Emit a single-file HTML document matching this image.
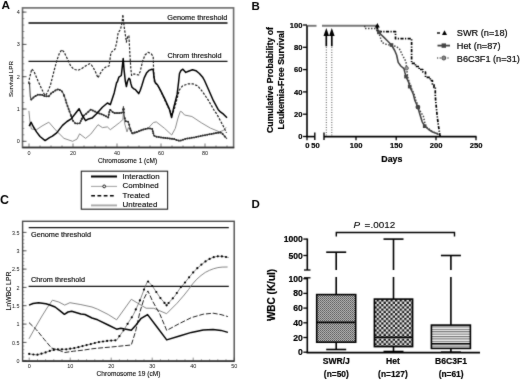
<!DOCTYPE html>
<html><head><meta charset="utf-8"><style>
html,body{margin:0;padding:0;background:#fff;width:520px;height:380px;overflow:hidden}
svg{display:block;font-family:"Liberation Sans", sans-serif}
</style></head><body>
<svg width="520" height="380" viewBox="0 0 520 380">
<defs><filter id="bl" x="0" y="0" width="520" height="380" filterUnits="userSpaceOnUse" color-interpolation-filters="sRGB"><feConvolveMatrix order="3" kernelMatrix="0.02 0.08 0.02 0.08 0.6 0.08 0.02 0.08 0.02" edgeMode="duplicate"/></filter><filter id="tf" x="0" y="0" width="520" height="380" filterUnits="userSpaceOnUse" color-interpolation-filters="sRGB"><feConvolveMatrix order="3" kernelMatrix="0.01 0.04 0.01 0.04 0.8 0.04 0.01 0.04 0.01" edgeMode="none"/></filter></defs>
<g filter="url(#bl)">
<rect width="520" height="380" fill="#fff"/>
<rect x="22.5" y="7.9" width="211.1" height="139.6" fill="none" stroke="#6a6a6a" stroke-width="1.6"/><line x1="22.4" y1="147.6" x2="234.2" y2="147.6" stroke="#333" stroke-width="1.5"/><line x1="22.4" y1="141.3" x2="26.5" y2="141.3" stroke="#333" stroke-width="0.8"/><line x1="22.4" y1="109.0" x2="26.5" y2="109.0" stroke="#333" stroke-width="0.8"/><line x1="22.4" y1="76.7" x2="26.5" y2="76.7" stroke="#333" stroke-width="0.8"/><line x1="22.4" y1="44.4" x2="26.5" y2="44.4" stroke="#333" stroke-width="0.8"/><line x1="22.4" y1="12.1" x2="26.5" y2="12.1" stroke="#333" stroke-width="0.8"/><line x1="22.4" y1="141.3" x2="24.4" y2="141.3" stroke="#555" stroke-width="0.6"/><line x1="22.4" y1="134.8" x2="24.4" y2="134.8" stroke="#555" stroke-width="0.6"/><line x1="22.4" y1="128.4" x2="24.4" y2="128.4" stroke="#555" stroke-width="0.6"/><line x1="22.4" y1="121.9" x2="24.4" y2="121.9" stroke="#555" stroke-width="0.6"/><line x1="22.4" y1="115.5" x2="24.4" y2="115.5" stroke="#555" stroke-width="0.6"/><line x1="22.4" y1="109.0" x2="24.4" y2="109.0" stroke="#555" stroke-width="0.6"/><line x1="22.4" y1="102.5" x2="24.4" y2="102.5" stroke="#555" stroke-width="0.6"/><line x1="22.4" y1="96.1" x2="24.4" y2="96.1" stroke="#555" stroke-width="0.6"/><line x1="22.4" y1="89.6" x2="24.4" y2="89.6" stroke="#555" stroke-width="0.6"/><line x1="22.4" y1="83.2" x2="24.4" y2="83.2" stroke="#555" stroke-width="0.6"/><line x1="22.4" y1="76.7" x2="24.4" y2="76.7" stroke="#555" stroke-width="0.6"/><line x1="22.4" y1="70.2" x2="24.4" y2="70.2" stroke="#555" stroke-width="0.6"/><line x1="22.4" y1="63.8" x2="24.4" y2="63.8" stroke="#555" stroke-width="0.6"/><line x1="22.4" y1="57.3" x2="24.4" y2="57.3" stroke="#555" stroke-width="0.6"/><line x1="22.4" y1="50.9" x2="24.4" y2="50.9" stroke="#555" stroke-width="0.6"/><line x1="22.4" y1="44.4" x2="24.4" y2="44.4" stroke="#555" stroke-width="0.6"/><line x1="22.4" y1="37.9" x2="24.4" y2="37.9" stroke="#555" stroke-width="0.6"/><line x1="22.4" y1="31.5" x2="24.4" y2="31.5" stroke="#555" stroke-width="0.6"/><line x1="22.4" y1="25.0" x2="24.4" y2="25.0" stroke="#555" stroke-width="0.6"/><line x1="22.4" y1="18.6" x2="24.4" y2="18.6" stroke="#555" stroke-width="0.6"/><line x1="22.4" y1="12.1" x2="24.4" y2="12.1" stroke="#555" stroke-width="0.6"/><line x1="29.0" y1="147.5" x2="29.0" y2="143.5" stroke="#444" stroke-width="0.7"/><line x1="40.0" y1="147.5" x2="40.0" y2="145.5" stroke="#444" stroke-width="0.7"/><line x1="51.0" y1="147.5" x2="51.0" y2="145.5" stroke="#444" stroke-width="0.7"/><line x1="62.0" y1="147.5" x2="62.0" y2="145.5" stroke="#444" stroke-width="0.7"/><line x1="73.0" y1="147.5" x2="73.0" y2="143.5" stroke="#444" stroke-width="0.7"/><line x1="84.0" y1="147.5" x2="84.0" y2="145.5" stroke="#444" stroke-width="0.7"/><line x1="95.0" y1="147.5" x2="95.0" y2="145.5" stroke="#444" stroke-width="0.7"/><line x1="106.0" y1="147.5" x2="106.0" y2="145.5" stroke="#444" stroke-width="0.7"/><line x1="117.0" y1="147.5" x2="117.0" y2="143.5" stroke="#444" stroke-width="0.7"/><line x1="128.0" y1="147.5" x2="128.0" y2="145.5" stroke="#444" stroke-width="0.7"/><line x1="139.0" y1="147.5" x2="139.0" y2="145.5" stroke="#444" stroke-width="0.7"/><line x1="150.0" y1="147.5" x2="150.0" y2="145.5" stroke="#444" stroke-width="0.7"/><line x1="161.0" y1="147.5" x2="161.0" y2="143.5" stroke="#444" stroke-width="0.7"/><line x1="172.0" y1="147.5" x2="172.0" y2="145.5" stroke="#444" stroke-width="0.7"/><line x1="183.0" y1="147.5" x2="183.0" y2="145.5" stroke="#444" stroke-width="0.7"/><line x1="194.0" y1="147.5" x2="194.0" y2="145.5" stroke="#444" stroke-width="0.7"/><line x1="205.0" y1="147.5" x2="205.0" y2="143.5" stroke="#444" stroke-width="0.7"/><line x1="216.0" y1="147.5" x2="216.0" y2="145.5" stroke="#444" stroke-width="0.7"/><line x1="227.0" y1="147.5" x2="227.0" y2="145.5" stroke="#444" stroke-width="0.7"/><line x1="28.5" y1="22.9" x2="227.5" y2="22.9" stroke="#444" stroke-width="2.0"/><line x1="28.5" y1="61.4" x2="227.5" y2="61.4" stroke="#111" stroke-width="1.4"/><polyline points="28.9,110.9 30.0,122.0 31.4,129.0 36.5,129.7 42.0,126.0 48.8,122.2 56.7,131.2 64.0,138.4 72.6,141.3 77.0,139.1 79.6,133.8 85.6,138.4 90.8,134.1 98.0,124.7 102.4,127.6 107.4,126.9 110.3,129.7 114.0,126.9 119.7,122.5 122.9,119.6 123.4,112.4 124.8,124.0 127.0,131.9 128.4,127.6 132.8,134.1 140.0,131.2 148.7,127.6 153.4,122.5 156.3,121.9 164.6,128.4 171.7,135.0 175.3,128.4 178.0,118.0 180.3,111.3 182.0,112.0 184.5,115.0 191.9,116.5 201.2,122.7 210.4,128.1 219.6,131.9 223.5,130.4 226.1,127.3" fill="none" stroke="#8c8c8c" stroke-width="1.0" stroke-linejoin="round" /><polyline points="29.5,83.5 30.3,96.5 31.3,99.8 34.5,96.5 37.8,94.7 41.7,94.7 44.9,96.3 48.9,96.3 51.0,93.5 53.6,91.6 56.0,90.0 58.3,89.2 61.5,90.8 63.0,93.0 64.7,97.1 66.5,103.0 68.6,109.0 70.5,114.0 72.6,120.3 75.5,123.5 79.9,123.2 82.7,116.7 86.4,113.5 90.8,109.5 96.6,112.4 102.4,114.5 108.2,117.4 109.9,109.5 114.0,113.1 119.7,113.1 122.9,112.4 123.4,106.6 124.1,115.3 125.5,121.1 128.4,121.8 129.9,127.6 132.0,133.4 137.1,131.9 142.9,129.5 148.7,128.3 152.3,129.0 153.8,135.5 156.3,136.7 164.6,137.9 174.1,139.1 179.4,140.9 185.8,138.8 195.0,137.3 205.8,135.0 219.6,132.4 221.5,132.7 227.0,138.8" fill="none" stroke="#444" stroke-width="1.1" stroke-linejoin="round" /><circle cx="31.2" cy="99.5" r="1.0" fill="#2a2a2a" stroke="none" stroke-width="0"/><circle cx="33.4" cy="97.6" r="1.0" fill="#2a2a2a" stroke="none" stroke-width="0"/><circle cx="35.6" cy="95.9" r="1.0" fill="#2a2a2a" stroke="none" stroke-width="0"/><circle cx="37.8" cy="94.7" r="1.0" fill="#2a2a2a" stroke="none" stroke-width="0"/><circle cx="40.0" cy="94.7" r="1.0" fill="#2a2a2a" stroke="none" stroke-width="0"/><circle cx="42.2" cy="95.0" r="1.0" fill="#2a2a2a" stroke="none" stroke-width="0"/><circle cx="44.4" cy="96.0" r="1.0" fill="#2a2a2a" stroke="none" stroke-width="0"/><circle cx="46.6" cy="96.3" r="1.0" fill="#2a2a2a" stroke="none" stroke-width="0"/><circle cx="48.8" cy="96.3" r="1.0" fill="#2a2a2a" stroke="none" stroke-width="0"/><circle cx="51.0" cy="93.5" r="1.0" fill="#2a2a2a" stroke="none" stroke-width="0"/><circle cx="53.2" cy="91.9" r="1.0" fill="#2a2a2a" stroke="none" stroke-width="0"/><circle cx="55.4" cy="90.4" r="1.0" fill="#2a2a2a" stroke="none" stroke-width="0"/><circle cx="57.6" cy="89.4" r="1.0" fill="#2a2a2a" stroke="none" stroke-width="0"/><circle cx="59.8" cy="90.0" r="1.0" fill="#2a2a2a" stroke="none" stroke-width="0"/><circle cx="62.0" cy="91.5" r="1.0" fill="#2a2a2a" stroke="none" stroke-width="0"/><circle cx="64.2" cy="95.9" r="1.0" fill="#2a2a2a" stroke="none" stroke-width="0"/><circle cx="66.4" cy="102.7" r="1.0" fill="#2a2a2a" stroke="none" stroke-width="0"/><circle cx="68.6" cy="109.0" r="1.0" fill="#2a2a2a" stroke="none" stroke-width="0"/><circle cx="70.8" cy="114.9" r="1.0" fill="#2a2a2a" stroke="none" stroke-width="0"/><circle cx="73.0" cy="120.7" r="1.0" fill="#2a2a2a" stroke="none" stroke-width="0"/><circle cx="75.2" cy="123.2" r="1.0" fill="#2a2a2a" stroke="none" stroke-width="0"/><circle cx="77.4" cy="123.4" r="1.0" fill="#2a2a2a" stroke="none" stroke-width="0"/><circle cx="79.6" cy="123.2" r="1.0" fill="#2a2a2a" stroke="none" stroke-width="0"/><circle cx="81.8" cy="118.8" r="1.0" fill="#2a2a2a" stroke="none" stroke-width="0"/><circle cx="84.0" cy="115.6" r="1.0" fill="#2a2a2a" stroke="none" stroke-width="0"/><circle cx="86.2" cy="113.7" r="1.0" fill="#2a2a2a" stroke="none" stroke-width="0"/><circle cx="88.4" cy="111.7" r="1.0" fill="#2a2a2a" stroke="none" stroke-width="0"/><circle cx="90.6" cy="109.7" r="1.0" fill="#2a2a2a" stroke="none" stroke-width="0"/><circle cx="92.8" cy="110.5" r="1.0" fill="#2a2a2a" stroke="none" stroke-width="0"/><circle cx="95.0" cy="111.6" r="1.0" fill="#2a2a2a" stroke="none" stroke-width="0"/><circle cx="97.2" cy="112.6" r="1.0" fill="#2a2a2a" stroke="none" stroke-width="0"/><circle cx="99.4" cy="113.4" r="1.0" fill="#2a2a2a" stroke="none" stroke-width="0"/><circle cx="101.6" cy="114.2" r="1.0" fill="#2a2a2a" stroke="none" stroke-width="0"/><circle cx="103.8" cy="115.2" r="1.0" fill="#2a2a2a" stroke="none" stroke-width="0"/><circle cx="106.0" cy="116.3" r="1.0" fill="#2a2a2a" stroke="none" stroke-width="0"/><circle cx="108.2" cy="117.4" r="1.0" fill="#2a2a2a" stroke="none" stroke-width="0"/><circle cx="110.4" cy="109.9" r="1.0" fill="#2a2a2a" stroke="none" stroke-width="0"/><circle cx="112.6" cy="111.9" r="1.0" fill="#2a2a2a" stroke="none" stroke-width="0"/><circle cx="114.8" cy="113.1" r="1.0" fill="#2a2a2a" stroke="none" stroke-width="0"/><circle cx="117.0" cy="113.1" r="1.0" fill="#2a2a2a" stroke="none" stroke-width="0"/><circle cx="119.2" cy="113.1" r="1.0" fill="#2a2a2a" stroke="none" stroke-width="0"/><circle cx="121.4" cy="112.7" r="1.0" fill="#2a2a2a" stroke="none" stroke-width="0"/><circle cx="123.6" cy="109.1" r="1.0" fill="#2a2a2a" stroke="none" stroke-width="0"/><circle cx="125.8" cy="121.2" r="1.0" fill="#2a2a2a" stroke="none" stroke-width="0"/><circle cx="128.0" cy="121.7" r="1.0" fill="#2a2a2a" stroke="none" stroke-width="0"/><circle cx="130.2" cy="128.4" r="1.0" fill="#2a2a2a" stroke="none" stroke-width="0"/><circle cx="132.4" cy="133.3" r="1.0" fill="#2a2a2a" stroke="none" stroke-width="0"/><circle cx="134.6" cy="132.6" r="1.0" fill="#2a2a2a" stroke="none" stroke-width="0"/><circle cx="136.8" cy="132.0" r="1.0" fill="#2a2a2a" stroke="none" stroke-width="0"/><circle cx="139.0" cy="131.1" r="1.0" fill="#2a2a2a" stroke="none" stroke-width="0"/><circle cx="141.2" cy="130.2" r="1.0" fill="#2a2a2a" stroke="none" stroke-width="0"/><circle cx="143.4" cy="129.4" r="1.0" fill="#2a2a2a" stroke="none" stroke-width="0"/><circle cx="145.6" cy="128.9" r="1.0" fill="#2a2a2a" stroke="none" stroke-width="0"/><circle cx="147.8" cy="128.5" r="1.0" fill="#2a2a2a" stroke="none" stroke-width="0"/><circle cx="150.0" cy="128.6" r="1.0" fill="#2a2a2a" stroke="none" stroke-width="0"/><circle cx="152.2" cy="129.0" r="1.0" fill="#2a2a2a" stroke="none" stroke-width="0"/><circle cx="154.4" cy="135.8" r="1.0" fill="#2a2a2a" stroke="none" stroke-width="0"/><circle cx="156.6" cy="136.7" r="1.0" fill="#2a2a2a" stroke="none" stroke-width="0"/><circle cx="158.8" cy="137.1" r="1.0" fill="#2a2a2a" stroke="none" stroke-width="0"/><circle cx="161.0" cy="137.4" r="1.0" fill="#2a2a2a" stroke="none" stroke-width="0"/><circle cx="163.2" cy="137.7" r="1.0" fill="#2a2a2a" stroke="none" stroke-width="0"/><circle cx="165.4" cy="138.0" r="1.0" fill="#2a2a2a" stroke="none" stroke-width="0"/><circle cx="167.6" cy="138.3" r="1.0" fill="#2a2a2a" stroke="none" stroke-width="0"/><circle cx="169.8" cy="138.6" r="1.0" fill="#2a2a2a" stroke="none" stroke-width="0"/><circle cx="172.0" cy="138.8" r="1.0" fill="#2a2a2a" stroke="none" stroke-width="0"/><circle cx="174.2" cy="139.1" r="1.0" fill="#2a2a2a" stroke="none" stroke-width="0"/><circle cx="176.4" cy="139.9" r="1.0" fill="#2a2a2a" stroke="none" stroke-width="0"/><circle cx="178.6" cy="140.6" r="1.0" fill="#2a2a2a" stroke="none" stroke-width="0"/><circle cx="180.8" cy="140.4" r="1.0" fill="#2a2a2a" stroke="none" stroke-width="0"/><circle cx="183.0" cy="139.7" r="1.0" fill="#2a2a2a" stroke="none" stroke-width="0"/><circle cx="185.2" cy="139.0" r="1.0" fill="#2a2a2a" stroke="none" stroke-width="0"/><circle cx="187.4" cy="138.5" r="1.0" fill="#2a2a2a" stroke="none" stroke-width="0"/><circle cx="189.6" cy="138.2" r="1.0" fill="#2a2a2a" stroke="none" stroke-width="0"/><circle cx="191.8" cy="137.8" r="1.0" fill="#2a2a2a" stroke="none" stroke-width="0"/><circle cx="194.0" cy="137.5" r="1.0" fill="#2a2a2a" stroke="none" stroke-width="0"/><circle cx="196.2" cy="137.0" r="1.0" fill="#2a2a2a" stroke="none" stroke-width="0"/><circle cx="198.4" cy="136.6" r="1.0" fill="#2a2a2a" stroke="none" stroke-width="0"/><circle cx="200.6" cy="136.1" r="1.0" fill="#2a2a2a" stroke="none" stroke-width="0"/><circle cx="202.8" cy="135.6" r="1.0" fill="#2a2a2a" stroke="none" stroke-width="0"/><circle cx="205.0" cy="135.2" r="1.0" fill="#2a2a2a" stroke="none" stroke-width="0"/><circle cx="207.2" cy="134.7" r="1.0" fill="#2a2a2a" stroke="none" stroke-width="0"/><circle cx="209.4" cy="134.3" r="1.0" fill="#2a2a2a" stroke="none" stroke-width="0"/><circle cx="211.6" cy="133.9" r="1.0" fill="#2a2a2a" stroke="none" stroke-width="0"/><circle cx="213.8" cy="133.5" r="1.0" fill="#2a2a2a" stroke="none" stroke-width="0"/><circle cx="216.0" cy="133.1" r="1.0" fill="#2a2a2a" stroke="none" stroke-width="0"/><circle cx="218.2" cy="132.7" r="1.0" fill="#2a2a2a" stroke="none" stroke-width="0"/><circle cx="220.4" cy="132.5" r="1.0" fill="#2a2a2a" stroke="none" stroke-width="0"/><circle cx="222.6" cy="133.9" r="1.0" fill="#2a2a2a" stroke="none" stroke-width="0"/><circle cx="224.8" cy="136.4" r="1.0" fill="#2a2a2a" stroke="none" stroke-width="0"/><circle cx="29.5" cy="83.5" r="1.0" fill="#2a2a2a" stroke="none" stroke-width="0"/><circle cx="63.9" cy="95.0" r="1.0" fill="#2a2a2a" stroke="none" stroke-width="0"/><circle cx="65.6" cy="100.0" r="1.0" fill="#2a2a2a" stroke="none" stroke-width="0"/><circle cx="67.5" cy="106.0" r="1.0" fill="#2a2a2a" stroke="none" stroke-width="0"/><circle cx="69.5" cy="111.5" r="1.0" fill="#2a2a2a" stroke="none" stroke-width="0"/><circle cx="71.2" cy="116.1" r="1.0" fill="#2a2a2a" stroke="none" stroke-width="0"/><circle cx="71.9" cy="118.2" r="1.0" fill="#2a2a2a" stroke="none" stroke-width="0"/><circle cx="80.8" cy="121.0" r="1.0" fill="#2a2a2a" stroke="none" stroke-width="0"/><circle cx="81.8" cy="118.9" r="1.0" fill="#2a2a2a" stroke="none" stroke-width="0"/><circle cx="108.8" cy="114.8" r="1.0" fill="#2a2a2a" stroke="none" stroke-width="0"/><circle cx="109.3" cy="112.1" r="1.0" fill="#2a2a2a" stroke="none" stroke-width="0"/><circle cx="123.2" cy="109.5" r="1.0" fill="#2a2a2a" stroke="none" stroke-width="0"/><circle cx="123.6" cy="109.5" r="1.0" fill="#2a2a2a" stroke="none" stroke-width="0"/><circle cx="123.9" cy="112.4" r="1.0" fill="#2a2a2a" stroke="none" stroke-width="0"/><circle cx="124.8" cy="118.2" r="1.0" fill="#2a2a2a" stroke="none" stroke-width="0"/><circle cx="129.2" cy="124.7" r="1.0" fill="#2a2a2a" stroke="none" stroke-width="0"/><circle cx="130.9" cy="130.5" r="1.0" fill="#2a2a2a" stroke="none" stroke-width="0"/><circle cx="152.8" cy="131.2" r="1.0" fill="#2a2a2a" stroke="none" stroke-width="0"/><circle cx="153.3" cy="133.3" r="1.0" fill="#2a2a2a" stroke="none" stroke-width="0"/><polyline points="28.6,83.7 29.5,78.0 31.8,69.0 34.0,71.5 37.8,80.5 41.0,87.5 44.1,94.0 45.7,95.5 48.0,91.0 50.4,85.3 52.5,77.0 54.4,69.5 57.0,60.0 59.5,53.0 61.8,49.7 64.0,52.0 66.5,57.0 68.6,61.5 70.5,65.5 72.5,67.9 75.0,69.5 78.0,70.3 81.0,69.0 84.0,67.0 87.0,65.0 89.7,63.7 91.5,65.0 93.7,68.4 96.0,73.0 98.0,77.9 100.0,74.0 102.4,70.0 104.5,68.0 106.3,66.8 109.0,66.0 111.0,52.4 115.0,49.2 116.6,42.9 118.2,32.6 120.5,29.5 122.1,22.4 122.9,14.5 124.2,27.1 126.4,42.1 127.6,36.6 128.9,35.8 130.0,55.8 130.8,68.4 131.6,75.5 133.9,73.9 138.7,75.0 140.2,71.5 142.6,61.3 145.0,55.0 148.1,52.3 151.3,53.9 153.2,56.6 153.6,70.0 154.4,81.8 157.6,85.2 161.0,91.5 165.0,100.5 169.0,109.0 172.3,114.5 174.6,108.0 177.2,98.0 179.3,90.0 182.6,85.8 188.1,83.9 192.9,83.9 197.6,85.8 202.3,91.3 208.6,100.7 215.0,111.8 216.5,113.5 222.7,125.0 226.5,132.7" fill="none" stroke="#222" stroke-width="1.2" stroke-linejoin="round" stroke-dasharray="2.4,1.4" /><polyline points="29.2,126.1 31.0,122.2 33.5,127.0 36.5,131.9 40.0,136.5 45.1,140.6 49.5,137.7 52.4,136.2 56.7,132.9 62.5,125.4 67.0,121.5 71.2,118.9 75.0,114.0 79.1,108.7 82.0,115.0 85.6,120.7 88.5,118.9 92.0,118.1 96.6,113.8 102.4,107.3 107.4,103.0 110.3,104.7 114.2,92.9 116.6,82.6 117.4,81.8 118.9,77.1 121.3,75.5 122.1,68.4 123.2,58.6 124.1,70.0 125.3,81.0 126.4,86.5 127.6,81.0 128.9,78.3 130.0,79.4 130.8,83.4 132.0,87.3 133.9,88.9 135.5,89.7 138.7,93.6 140.2,90.5 141.8,85.7 144.2,77.9 146.5,73.1 148.9,70.4 152.1,69.2 153.2,70.0 154.1,77.9 155.2,82.6 157.6,85.0 159.7,88.9 164.5,98.4 169.2,108.6 171.6,117.5 173.9,107.0 177.1,94.4 178.6,82.0 179.5,73.5 180.9,70.7 182.9,69.2 185.8,72.4 188.4,71.2 192.5,69.8 195.9,70.7 199.4,73.5 202.9,77.6 204.5,80.5 208.6,89.7 213.4,100.7 218.1,109.4 220.4,111.9 223.5,114.2 227.0,117.8" fill="none" stroke="#000" stroke-width="1.5" stroke-linejoin="round" /><rect x="81.3" y="171.2" width="86.3" height="38" fill="#fff" stroke="#222" stroke-width="1.1"/><line x1="91" y1="176.5" x2="117" y2="176.5" stroke="#000" stroke-width="2"/><line x1="91" y1="186.4" x2="117" y2="186.4" stroke="#888" stroke-width="0.8"/><circle cx="104.2" cy="186.4" r="1.4" fill="#fff" stroke="#000" stroke-width="0.9"/><line x1="91.2" y1="195.8" x2="113.8" y2="195.8" stroke="#000" stroke-width="1.5" stroke-dasharray="3.8,2.45"/><line x1="91" y1="205.4" x2="117" y2="205.4" stroke="#aaa" stroke-width="1.9"/><rect x="22.6" y="221.3" width="211.6" height="139.8" fill="none" stroke="#4a4a4a" stroke-width="1.4"/><line x1="22.6" y1="361.1" x2="234.2" y2="361.1" stroke="#222" stroke-width="1.4"/><line x1="22.6" y1="360.7" x2="26.5" y2="360.7" stroke="#333" stroke-width="0.8"/><line x1="22.6" y1="342.4" x2="26.5" y2="342.4" stroke="#333" stroke-width="0.8"/><line x1="22.6" y1="324.1" x2="26.5" y2="324.1" stroke="#333" stroke-width="0.8"/><line x1="22.6" y1="305.7" x2="26.5" y2="305.7" stroke="#333" stroke-width="0.8"/><line x1="22.6" y1="287.4" x2="26.5" y2="287.4" stroke="#333" stroke-width="0.8"/><line x1="22.6" y1="269.1" x2="26.5" y2="269.1" stroke="#333" stroke-width="0.8"/><line x1="22.6" y1="250.8" x2="26.5" y2="250.8" stroke="#333" stroke-width="0.8"/><line x1="22.6" y1="232.4" x2="26.5" y2="232.4" stroke="#333" stroke-width="0.8"/><line x1="22.6" y1="360.7" x2="24.4" y2="360.7" stroke="#555" stroke-width="0.5"/><line x1="22.6" y1="357.0" x2="24.4" y2="357.0" stroke="#555" stroke-width="0.5"/><line x1="22.6" y1="353.4" x2="24.4" y2="353.4" stroke="#555" stroke-width="0.5"/><line x1="22.6" y1="349.7" x2="24.4" y2="349.7" stroke="#555" stroke-width="0.5"/><line x1="22.6" y1="346.0" x2="24.4" y2="346.0" stroke="#555" stroke-width="0.5"/><line x1="22.6" y1="342.4" x2="24.4" y2="342.4" stroke="#555" stroke-width="0.5"/><line x1="22.6" y1="338.7" x2="24.4" y2="338.7" stroke="#555" stroke-width="0.5"/><line x1="22.6" y1="335.0" x2="24.4" y2="335.0" stroke="#555" stroke-width="0.5"/><line x1="22.6" y1="331.4" x2="24.4" y2="331.4" stroke="#555" stroke-width="0.5"/><line x1="22.6" y1="327.7" x2="24.4" y2="327.7" stroke="#555" stroke-width="0.5"/><line x1="22.6" y1="324.1" x2="24.4" y2="324.1" stroke="#555" stroke-width="0.5"/><line x1="22.6" y1="320.4" x2="24.4" y2="320.4" stroke="#555" stroke-width="0.5"/><line x1="22.6" y1="316.7" x2="24.4" y2="316.7" stroke="#555" stroke-width="0.5"/><line x1="22.6" y1="313.1" x2="24.4" y2="313.1" stroke="#555" stroke-width="0.5"/><line x1="22.6" y1="309.4" x2="24.4" y2="309.4" stroke="#555" stroke-width="0.5"/><line x1="22.6" y1="305.7" x2="24.4" y2="305.7" stroke="#555" stroke-width="0.5"/><line x1="22.6" y1="302.1" x2="24.4" y2="302.1" stroke="#555" stroke-width="0.5"/><line x1="22.6" y1="298.4" x2="24.4" y2="298.4" stroke="#555" stroke-width="0.5"/><line x1="22.6" y1="294.7" x2="24.4" y2="294.7" stroke="#555" stroke-width="0.5"/><line x1="22.6" y1="291.1" x2="24.4" y2="291.1" stroke="#555" stroke-width="0.5"/><line x1="22.6" y1="287.4" x2="24.4" y2="287.4" stroke="#555" stroke-width="0.5"/><line x1="22.6" y1="283.7" x2="24.4" y2="283.7" stroke="#555" stroke-width="0.5"/><line x1="22.6" y1="280.1" x2="24.4" y2="280.1" stroke="#555" stroke-width="0.5"/><line x1="22.6" y1="276.4" x2="24.4" y2="276.4" stroke="#555" stroke-width="0.5"/><line x1="22.6" y1="272.7" x2="24.4" y2="272.7" stroke="#555" stroke-width="0.5"/><line x1="22.6" y1="269.1" x2="24.4" y2="269.1" stroke="#555" stroke-width="0.5"/><line x1="22.6" y1="265.4" x2="24.4" y2="265.4" stroke="#555" stroke-width="0.5"/><line x1="22.6" y1="261.7" x2="24.4" y2="261.7" stroke="#555" stroke-width="0.5"/><line x1="22.6" y1="258.1" x2="24.4" y2="258.1" stroke="#555" stroke-width="0.5"/><line x1="22.6" y1="254.4" x2="24.4" y2="254.4" stroke="#555" stroke-width="0.5"/><line x1="22.6" y1="250.8" x2="24.4" y2="250.8" stroke="#555" stroke-width="0.5"/><line x1="22.6" y1="247.1" x2="24.4" y2="247.1" stroke="#555" stroke-width="0.5"/><line x1="22.6" y1="243.4" x2="24.4" y2="243.4" stroke="#555" stroke-width="0.5"/><line x1="22.6" y1="239.8" x2="24.4" y2="239.8" stroke="#555" stroke-width="0.5"/><line x1="22.6" y1="236.1" x2="24.4" y2="236.1" stroke="#555" stroke-width="0.5"/><line x1="22.6" y1="232.4" x2="24.4" y2="232.4" stroke="#555" stroke-width="0.5"/><line x1="29.2" y1="361.1" x2="29.2" y2="357.6" stroke="#444" stroke-width="0.6"/><line x1="37.5" y1="361.1" x2="37.5" y2="359.3" stroke="#444" stroke-width="0.6"/><line x1="45.6" y1="361.1" x2="45.6" y2="359.3" stroke="#444" stroke-width="0.6"/><line x1="53.8" y1="361.1" x2="53.8" y2="359.3" stroke="#444" stroke-width="0.6"/><line x1="62.0" y1="361.1" x2="62.0" y2="359.3" stroke="#444" stroke-width="0.6"/><line x1="70.2" y1="361.1" x2="70.2" y2="357.6" stroke="#444" stroke-width="0.6"/><line x1="78.4" y1="361.1" x2="78.4" y2="359.3" stroke="#444" stroke-width="0.6"/><line x1="86.6" y1="361.1" x2="86.6" y2="359.3" stroke="#444" stroke-width="0.6"/><line x1="94.8" y1="361.1" x2="94.8" y2="359.3" stroke="#444" stroke-width="0.6"/><line x1="103.0" y1="361.1" x2="103.0" y2="359.3" stroke="#444" stroke-width="0.6"/><line x1="111.2" y1="361.1" x2="111.2" y2="357.6" stroke="#444" stroke-width="0.6"/><line x1="119.4" y1="361.1" x2="119.4" y2="359.3" stroke="#444" stroke-width="0.6"/><line x1="127.6" y1="361.1" x2="127.6" y2="359.3" stroke="#444" stroke-width="0.6"/><line x1="135.8" y1="361.1" x2="135.8" y2="359.3" stroke="#444" stroke-width="0.6"/><line x1="144.0" y1="361.1" x2="144.0" y2="359.3" stroke="#444" stroke-width="0.6"/><line x1="152.2" y1="361.1" x2="152.2" y2="357.6" stroke="#444" stroke-width="0.6"/><line x1="160.4" y1="361.1" x2="160.4" y2="359.3" stroke="#444" stroke-width="0.6"/><line x1="168.6" y1="361.1" x2="168.6" y2="359.3" stroke="#444" stroke-width="0.6"/><line x1="176.8" y1="361.1" x2="176.8" y2="359.3" stroke="#444" stroke-width="0.6"/><line x1="185.0" y1="361.1" x2="185.0" y2="359.3" stroke="#444" stroke-width="0.6"/><line x1="193.2" y1="361.1" x2="193.2" y2="357.6" stroke="#444" stroke-width="0.6"/><line x1="201.4" y1="361.1" x2="201.4" y2="359.3" stroke="#444" stroke-width="0.6"/><line x1="209.6" y1="361.1" x2="209.6" y2="359.3" stroke="#444" stroke-width="0.6"/><line x1="217.8" y1="361.1" x2="217.8" y2="359.3" stroke="#444" stroke-width="0.6"/><line x1="226.0" y1="361.1" x2="226.0" y2="359.3" stroke="#444" stroke-width="0.6"/><line x1="234.2" y1="361.1" x2="234.2" y2="357.6" stroke="#444" stroke-width="0.6"/><line x1="28.7" y1="227.6" x2="228.8" y2="227.6" stroke="#111" stroke-width="1.3"/><line x1="28.6" y1="286.4" x2="228.8" y2="286.4" stroke="#111" stroke-width="1.3"/><polyline points="29.0,338.8 35.0,328.0 42.0,316.0 47.0,308.0 52.4,300.2 58.8,302.0 64.7,305.1 69.9,302.7 80.9,304.6 92.0,307.0 97.6,309.2 108.2,314.5 116.6,319.8 131.3,299.3 146.1,308.2 153.8,308.3 166.6,313.7 177.1,303.2 184.2,295.0 188.4,289.7 192.6,283.9 196.8,279.2 201.0,275.5 205.3,272.4 209.5,270.3 213.7,268.7 217.9,267.6 222.1,267.1 227.6,267.0" fill="none" stroke="#777" stroke-width="0.9" stroke-linejoin="round" /><polyline points="29.0,322.6 36.7,330.0 44.1,339.2 51.5,348.0 58.8,350.2 64.7,352.5 73.6,351.2 82.8,350.2 92.0,348.8 97.6,348.2 110.3,347.1 131.3,345.0 135.6,331.3 139.8,312.4 144.0,298.7 147.9,290.9 152.4,300.8 160.0,314.5 166.7,330.4 179.5,323.5 191.4,317.6 203.2,314.2 213.1,313.2 221.0,314.6 227.9,316.6" fill="none" stroke="#222" stroke-width="1.0" stroke-linejoin="round" stroke-dasharray="5,1.8" /><polyline points="29.0,305.1 33.0,303.5 38.6,302.7 45.9,303.8 50.0,305.0 55.1,307.0 59.8,310.7 64.4,314.3 68.0,312.0 71.7,311.2 80.9,314.0 85.0,314.5 92.0,318.0 97.6,319.8 108.2,325.0 116.6,329.2 120.8,328.2 131.3,330.3 136.0,325.0 140.8,318.7 147.6,314.6 157.0,327.0 166.7,339.9 179.5,336.0 191.4,332.4 203.2,330.0 213.1,329.4 221.0,330.4 227.9,332.4" fill="none" stroke="#000" stroke-width="1.5" stroke-linejoin="round" /><polyline points="29.0,353.9 36.7,354.9 44.1,353.0 51.5,350.2 58.8,349.3 66.2,349.3 75.4,348.0 84.6,345.6 92.0,343.8 97.6,342.3 108.2,340.8 116.6,340.2 122.9,331.3 128.2,322.9 133.5,314.5 139.8,300.8 145.0,287.1 147.6,281.0 151.8,285.3 160.3,297.9 166.6,305.3 175.0,295.8 180.5,287.6 184.7,282.9 188.9,277.6 192.8,272.9 196.8,268.7 201.0,265.0 205.0,261.8 208.9,259.2 213.2,257.3 217.4,256.3 221.6,256.3 225.8,256.9 228.7,257.5" fill="none" stroke="#555" stroke-width="0.7" stroke-linejoin="round" /><circle cx="29.2" cy="353.9" r="1.1" fill="#000" stroke="none" stroke-width="0"/><circle cx="33.4" cy="354.5" r="1.1" fill="#000" stroke="none" stroke-width="0"/><circle cx="37.5" cy="354.7" r="1.1" fill="#000" stroke="none" stroke-width="0"/><circle cx="41.5" cy="353.7" r="1.1" fill="#000" stroke="none" stroke-width="0"/><circle cx="45.6" cy="352.4" r="1.1" fill="#000" stroke="none" stroke-width="0"/><circle cx="49.8" cy="350.9" r="1.1" fill="#000" stroke="none" stroke-width="0"/><circle cx="53.8" cy="349.9" r="1.1" fill="#000" stroke="none" stroke-width="0"/><circle cx="57.9" cy="349.4" r="1.1" fill="#000" stroke="none" stroke-width="0"/><circle cx="62.0" cy="349.3" r="1.1" fill="#000" stroke="none" stroke-width="0"/><circle cx="66.2" cy="349.3" r="1.1" fill="#000" stroke="none" stroke-width="0"/><circle cx="70.2" cy="348.7" r="1.1" fill="#000" stroke="none" stroke-width="0"/><circle cx="74.3" cy="348.1" r="1.1" fill="#000" stroke="none" stroke-width="0"/><circle cx="78.4" cy="347.2" r="1.1" fill="#000" stroke="none" stroke-width="0"/><circle cx="82.5" cy="346.1" r="1.1" fill="#000" stroke="none" stroke-width="0"/><circle cx="86.6" cy="345.1" r="1.1" fill="#000" stroke="none" stroke-width="0"/><circle cx="90.8" cy="344.1" r="1.1" fill="#000" stroke="none" stroke-width="0"/><circle cx="94.8" cy="343.0" r="1.1" fill="#000" stroke="none" stroke-width="0"/><circle cx="98.9" cy="342.1" r="1.1" fill="#000" stroke="none" stroke-width="0"/><circle cx="103.0" cy="341.5" r="1.1" fill="#000" stroke="none" stroke-width="0"/><circle cx="107.1" cy="340.9" r="1.1" fill="#000" stroke="none" stroke-width="0"/><circle cx="111.2" cy="340.6" r="1.1" fill="#000" stroke="none" stroke-width="0"/><circle cx="115.3" cy="340.3" r="1.1" fill="#000" stroke="none" stroke-width="0"/><circle cx="119.4" cy="336.2" r="1.1" fill="#000" stroke="none" stroke-width="0"/><circle cx="123.5" cy="330.3" r="1.1" fill="#000" stroke="none" stroke-width="0"/><circle cx="127.6" cy="323.8" r="1.1" fill="#000" stroke="none" stroke-width="0"/><circle cx="131.8" cy="317.3" r="1.1" fill="#000" stroke="none" stroke-width="0"/><circle cx="135.8" cy="309.4" r="1.1" fill="#000" stroke="none" stroke-width="0"/><circle cx="139.9" cy="300.4" r="1.1" fill="#000" stroke="none" stroke-width="0"/><circle cx="144.0" cy="289.6" r="1.1" fill="#000" stroke="none" stroke-width="0"/><circle cx="148.1" cy="281.6" r="1.1" fill="#000" stroke="none" stroke-width="0"/><circle cx="152.2" cy="286.0" r="1.1" fill="#000" stroke="none" stroke-width="0"/><circle cx="156.3" cy="292.0" r="1.1" fill="#000" stroke="none" stroke-width="0"/><circle cx="160.4" cy="298.1" r="1.1" fill="#000" stroke="none" stroke-width="0"/><circle cx="164.5" cy="302.9" r="1.1" fill="#000" stroke="none" stroke-width="0"/><circle cx="168.6" cy="303.0" r="1.1" fill="#000" stroke="none" stroke-width="0"/><circle cx="172.8" cy="298.3" r="1.1" fill="#000" stroke="none" stroke-width="0"/><circle cx="176.8" cy="293.0" r="1.1" fill="#000" stroke="none" stroke-width="0"/><circle cx="180.9" cy="287.1" r="1.1" fill="#000" stroke="none" stroke-width="0"/><circle cx="185.0" cy="282.5" r="1.1" fill="#000" stroke="none" stroke-width="0"/><circle cx="189.1" cy="277.3" r="1.1" fill="#000" stroke="none" stroke-width="0"/><circle cx="193.2" cy="272.4" r="1.1" fill="#000" stroke="none" stroke-width="0"/><circle cx="197.3" cy="268.2" r="1.1" fill="#000" stroke="none" stroke-width="0"/><circle cx="201.4" cy="264.6" r="1.1" fill="#000" stroke="none" stroke-width="0"/><circle cx="205.5" cy="261.4" r="1.1" fill="#000" stroke="none" stroke-width="0"/><circle cx="209.6" cy="258.9" r="1.1" fill="#000" stroke="none" stroke-width="0"/><circle cx="213.7" cy="257.2" r="1.1" fill="#000" stroke="none" stroke-width="0"/><circle cx="217.8" cy="256.3" r="1.1" fill="#000" stroke="none" stroke-width="0"/><circle cx="221.9" cy="256.4" r="1.1" fill="#000" stroke="none" stroke-width="0"/><circle cx="226.0" cy="257.0" r="1.1" fill="#000" stroke="none" stroke-width="0"/><circle cx="166.6" cy="305.3" r="1.1" fill="#000" stroke="none" stroke-width="0"/><line x1="307" y1="25.2" x2="307" y2="137" stroke="#000" stroke-width="1.6"/><line x1="303" y1="136.5" x2="307" y2="136.5" stroke="#000" stroke-width="1.3"/><line x1="303" y1="114.2" x2="307" y2="114.2" stroke="#000" stroke-width="1.3"/><line x1="303" y1="91.9" x2="307" y2="91.9" stroke="#000" stroke-width="1.3"/><line x1="303" y1="69.6" x2="307" y2="69.6" stroke="#000" stroke-width="1.3"/><line x1="303" y1="47.3" x2="307" y2="47.3" stroke="#000" stroke-width="1.3"/><line x1="303" y1="25.0" x2="307" y2="25.0" stroke="#000" stroke-width="1.3"/><line x1="306.2" y1="136.6" x2="314.8" y2="136.6" stroke="#000" stroke-width="1.6"/><line x1="324" y1="136.6" x2="476.5" y2="136.6" stroke="#000" stroke-width="1.6"/><line x1="307" y1="136.5" x2="307" y2="140.3" stroke="#000" stroke-width="1.3"/><line x1="356" y1="136.5" x2="356" y2="140.3" stroke="#000" stroke-width="1.3"/><line x1="396.2" y1="136.5" x2="396.2" y2="140.3" stroke="#000" stroke-width="1.3"/><line x1="436" y1="136.5" x2="436" y2="140.3" stroke="#000" stroke-width="1.3"/><line x1="476" y1="136.5" x2="476" y2="140.3" stroke="#000" stroke-width="1.3"/><line x1="314.8" y1="132.6" x2="314.8" y2="140" stroke="#000" stroke-width="1.4"/><line x1="324" y1="132.6" x2="324" y2="140" stroke="#000" stroke-width="1.4"/><line x1="308" y1="25.8" x2="316.5" y2="25.8" stroke="#777" stroke-width="1.9"/><line x1="322" y1="25.8" x2="377" y2="25.8" stroke="#777" stroke-width="1.9"/><line x1="326.3" y1="47" x2="326.3" y2="136" stroke="#555" stroke-width="1.0" stroke-dasharray="1,1.5"/><line x1="326.3" y1="33" x2="326.3" y2="46.3" stroke="#000" stroke-width="1.7"/><polygon points="326.3,28.0 323.5,36 329.1,36" fill="#000"/><line x1="331.8" y1="47" x2="331.8" y2="136" stroke="#555" stroke-width="1.0" stroke-dasharray="1,1.5"/><line x1="331.8" y1="33" x2="331.8" y2="46.3" stroke="#000" stroke-width="1.7"/><polygon points="331.8,28.0 329.0,36 334.6,36" fill="#000"/><polyline points="364.7,25.7 364.7,28.4 376.0,28.4 379.7,35.5 382.1,42.6 386.0,44.2 396.3,46.5 399.4,48.9 402.4,55.0 406.0,61.8 406.6,68.2 407.6,76.6 410.5,86.6 412.6,90.8 414.2,94.5 415.9,100.5 418.6,107.1 420.1,111.0 423.4,116.3 424.7,122.2 425.0,126.0 432.4,131.6 438.7,134.1" fill="none" stroke="#444" stroke-width="1.5" stroke-linejoin="round" stroke-dasharray="1.5,1.5" /><polyline points="375.8,25.7 377.5,29.0 378.9,32.4 381.0,34.5 383.7,37.1 387.6,41.0 391.5,45.0 394.7,50.5 396.6,55.0 398.2,62.4 400.8,66.0 404.0,68.7 405.0,72.9 406.0,76.6 408.7,82.4 409.7,86.6 411.8,90.8 413.4,94.5 414.9,100.5 417.9,107.1 419.5,113.0 422.1,121.6 424.7,126.2 428.7,129.5 432.6,132.1 436.6,133.4 438.6,134.7" fill="none" stroke="#444" stroke-width="1.6" stroke-linejoin="round" /><polyline points="377.4,25.7 377.4,31.6 395.5,31.6 395.5,38.7 411.6,38.7 411.6,63.4 415.5,63.4 415.5,66.5 419.2,66.5 419.2,69.5 422.9,69.5 422.9,72.0 425.5,72.0 425.5,77.3 430.3,77.3 430.3,80.5 432.4,80.5 432.4,84.0 434.0,84.0 434.0,87.4 435.3,87.4 435.3,96.0 435.9,103.0 437.2,116.3 438.6,126.8 439.9,134.7 440.2,136.0" fill="none" stroke="#000" stroke-width="1.7" stroke-linejoin="round" stroke-dasharray="3.2,1.4,1.2,1.4" /><polygon points="377.4,23 375,27.5 379.8,27.5" fill="#000"/><rect x="377.09999999999997" y="30.599999999999998" width="3.6" height="3.6" fill="#444"/><rect x="389.7" y="43.2" width="3.6" height="3.6" fill="#444"/><rect x="404.2" y="74.8" width="3.6" height="3.6" fill="#444"/><rect x="407.9" y="84.8" width="3.6" height="3.6" fill="#444"/><rect x="422.9" y="124.4" width="3.6" height="3.6" fill="#444"/><circle cx="417.9" cy="107.1" r="2.4" fill="#444"/><circle cx="406.6" cy="68.2" r="1.8" fill="#999" stroke="#555" stroke-width="0.8"/><line x1="437" y1="33" x2="440" y2="33" stroke="#000" stroke-width="1.4"/><polygon points="444.5,30.3 442,35 447,35" fill="#000"/><line x1="437.5" y1="45.6" x2="450" y2="45.6" stroke="#444" stroke-width="1.8"/><rect x="441.6" y="43.4" width="4.4" height="4.4" fill="#444"/><line x1="437" y1="58" x2="450" y2="58" stroke="#666" stroke-width="1.3" stroke-dasharray="1.2,1.4"/><circle cx="443.8" cy="58" r="2.0" fill="#888" stroke="#444" stroke-width="0.9"/><defs><pattern id="pdot" width="2" height="2" patternUnits="userSpaceOnUse"><rect width="2" height="2" fill="#d2d2d2"/><rect width="1" height="1" fill="#3a3a3a"/><rect x="1" y="1" width="1" height="1" fill="#5a5a5a"/></pattern><pattern id="pchk" x="376.65" y="303.95" width="4.6" height="4.6" patternUnits="userSpaceOnUse"><rect width="4.6" height="4.6" fill="#f4f4f4"/><rect width="2.3" height="2.3" fill="#111"/><rect x="2.3" y="2.3" width="2.3" height="2.3" fill="#111"/></pattern><pattern id="pstr" width="4" height="2.4" patternUnits="userSpaceOnUse"><rect width="4" height="2.4" fill="#fff"/><rect width="4" height="1.1" fill="#666"/></pattern></defs><line x1="307.3" y1="238.5" x2="307.3" y2="270" stroke="#000" stroke-width="1.6"/><line x1="304" y1="270" x2="310.5" y2="270" stroke="#000" stroke-width="1.3"/><line x1="307.3" y1="277.8" x2="307.3" y2="353" stroke="#000" stroke-width="1.6"/><line x1="304" y1="277.8" x2="310.5" y2="277.8" stroke="#000" stroke-width="1.3"/><line x1="303.3" y1="239.1" x2="307.3" y2="239.1" stroke="#000" stroke-width="1.3"/><line x1="303.3" y1="255.5" x2="307.3" y2="255.5" stroke="#000" stroke-width="1.3"/><line x1="303.3" y1="352.2" x2="307.3" y2="352.2" stroke="#000" stroke-width="1.3"/><line x1="303.3" y1="337.5" x2="307.3" y2="337.5" stroke="#000" stroke-width="1.3"/><line x1="303.3" y1="322.8" x2="307.3" y2="322.8" stroke="#000" stroke-width="1.3"/><line x1="303.3" y1="308.1" x2="307.3" y2="308.1" stroke="#000" stroke-width="1.3"/><line x1="303.3" y1="293.4" x2="307.3" y2="293.4" stroke="#000" stroke-width="1.3"/><line x1="303.3" y1="278.7" x2="307.3" y2="278.7" stroke="#000" stroke-width="1.3"/><line x1="306.5" y1="352.6" x2="480" y2="352.6" stroke="#000" stroke-width="1.6"/><polyline points="336.3,236.5 336.3,232.5 454.5,232.5 454.5,236.5" fill="none" stroke="#000" stroke-width="1.4"/><line x1="336.2" y1="252.2" x2="336.2" y2="270" stroke="#000" stroke-width="1.6"/><line x1="336.2" y1="277" x2="336.2" y2="294.6" stroke="#000" stroke-width="1.6"/><line x1="326.2" y1="252.2" x2="346.2" y2="252.2" stroke="#000" stroke-width="1.6"/><line x1="336.2" y1="342.2" x2="336.2" y2="349.5" stroke="#000" stroke-width="1.6"/><line x1="326.2" y1="349.5" x2="346.2" y2="349.5" stroke="#000" stroke-width="1.6"/><rect x="316.7" y="294.6" width="39" height="47.6" fill="url(#pdot)" stroke="#000" stroke-width="1.6"/><line x1="316.7" y1="322.4" x2="355.7" y2="322.4" stroke="#000" stroke-width="1.6"/><line x1="393.5" y1="239.1" x2="393.5" y2="270" stroke="#000" stroke-width="1.6"/><line x1="393.5" y1="277" x2="393.5" y2="299.1" stroke="#000" stroke-width="1.6"/><line x1="383.5" y1="239.1" x2="403.5" y2="239.1" stroke="#000" stroke-width="1.6"/><line x1="393.5" y1="346.5" x2="393.5" y2="351.5" stroke="#000" stroke-width="1.6"/><line x1="383.5" y1="351.5" x2="403.5" y2="351.5" stroke="#000" stroke-width="1.6"/><rect x="374.4" y="299.1" width="38.2" height="47.5" fill="url(#pchk)" stroke="#000" stroke-width="1.6"/><line x1="374.4" y1="337.3" x2="412.6" y2="337.3" stroke="#000" stroke-width="1.6"/><line x1="450.9" y1="255.5" x2="450.9" y2="270" stroke="#000" stroke-width="1.6"/><line x1="450.9" y1="277" x2="450.9" y2="325.1" stroke="#000" stroke-width="1.6"/><line x1="440.9" y1="255.5" x2="460.9" y2="255.5" stroke="#000" stroke-width="1.6"/><line x1="450.9" y1="348.4" x2="450.9" y2="352.2" stroke="#000" stroke-width="1.6"/><line x1="440.9" y1="352.2" x2="460.9" y2="352.2" stroke="#000" stroke-width="1.6"/><rect x="431.4" y="325.1" width="39.0" height="23.3" fill="url(#pstr)" stroke="#000" stroke-width="1.6"/><line x1="431.4" y1="343.7" x2="470.4" y2="343.7" stroke="#000" stroke-width="1.6"/>
</g>
<g filter="url(#tf)">
<text x="1.5" y="9.0" font-size="11.8" font-weight="700" text-anchor="start" fill="#000" >A</text><text x="19.8" y="143.3" font-size="5.5" font-weight="400" text-anchor="end" fill="#111" >0</text><text x="19.8" y="111.00000000000001" font-size="5.5" font-weight="400" text-anchor="end" fill="#111" >1</text><text x="19.8" y="78.70000000000002" font-size="5.5" font-weight="400" text-anchor="end" fill="#111" >2</text><text x="19.8" y="46.40000000000002" font-size="5.5" font-weight="400" text-anchor="end" fill="#111" >3</text><text x="19.8" y="14.100000000000023" font-size="5.5" font-weight="400" text-anchor="end" fill="#111" >4</text><text x="29.0" y="155" font-size="5.5" font-weight="400" text-anchor="middle" fill="#111" >0</text><text x="73.0" y="155" font-size="5.5" font-weight="400" text-anchor="middle" fill="#111" >20</text><text x="117.0" y="155" font-size="5.5" font-weight="400" text-anchor="middle" fill="#111" >40</text><text x="161.0" y="155" font-size="5.5" font-weight="400" text-anchor="middle" fill="#111" >60</text><text x="205.0" y="155" font-size="5.5" font-weight="400" text-anchor="middle" fill="#111" >80</text><text x="127.5" y="162.9" font-size="6.5" font-weight="400" text-anchor="middle" fill="#000" stroke="#000" stroke-width="0.1" >Chromosome 1 (cM)</text><text x="13" y="79" font-size="6.2" font-weight="400" text-anchor="middle" fill="#000" stroke="#000" stroke-width="0.1" transform="rotate(-90 13 79)">Survival LPR</text><text x="227.3" y="19.5" font-size="7.3" font-weight="400" text-anchor="end" fill="#111" stroke="#111" stroke-width="0.18" >Genome threshold</text><text x="221.5" y="58.3" font-size="7.3" font-weight="400" text-anchor="end" fill="#111" stroke="#111" stroke-width="0.18" >Chrom threshold</text><text x="122.6" y="178.8" font-size="7.95" font-weight="400" text-anchor="start" fill="#000" stroke="#000" stroke-width="0.12" >Interaction</text><text x="122.6" y="188.3" font-size="7.95" font-weight="400" text-anchor="start" fill="#000" stroke="#000" stroke-width="0.12" >Combined</text><text x="122.6" y="197.8" font-size="7.95" font-weight="400" text-anchor="start" fill="#000" stroke="#000" stroke-width="0.12" >Treated</text><text x="122.6" y="207.4" font-size="7.95" font-weight="400" text-anchor="start" fill="#000" stroke="#000" stroke-width="0.12" >Untreated</text><text x="0.1" y="203.9" font-size="12.4" font-weight="700" text-anchor="start" fill="#000" >C</text><text x="19.5" y="363.09999999999997" font-size="5.4" font-weight="400" text-anchor="end" fill="#111" >0</text><text x="19.5" y="344.775" font-size="5.4" font-weight="400" text-anchor="end" fill="#111" >0.5</text><text x="19.5" y="326.45" font-size="5.4" font-weight="400" text-anchor="end" fill="#111" >1</text><text x="19.5" y="308.125" font-size="5.4" font-weight="400" text-anchor="end" fill="#111" >1.5</text><text x="19.5" y="289.79999999999995" font-size="5.4" font-weight="400" text-anchor="end" fill="#111" >2</text><text x="19.5" y="271.47499999999997" font-size="5.4" font-weight="400" text-anchor="end" fill="#111" >2.5</text><text x="19.5" y="253.15" font-size="5.4" font-weight="400" text-anchor="end" fill="#111" >3</text><text x="19.5" y="234.825" font-size="5.4" font-weight="400" text-anchor="end" fill="#111" >3.5</text><text x="29.25" y="368.3" font-size="5.5" font-weight="400" text-anchor="middle" fill="#111" >0</text><text x="70.25" y="368.3" font-size="5.5" font-weight="400" text-anchor="middle" fill="#111" >10</text><text x="111.25" y="368.3" font-size="5.5" font-weight="400" text-anchor="middle" fill="#111" >20</text><text x="152.25" y="368.3" font-size="5.5" font-weight="400" text-anchor="middle" fill="#111" >30</text><text x="193.25" y="368.3" font-size="5.5" font-weight="400" text-anchor="middle" fill="#111" >40</text><text x="234.24999999999997" y="368.3" font-size="5.5" font-weight="400" text-anchor="middle" fill="#111" >50</text><text x="128.5" y="375.8" font-size="6.6" font-weight="400" text-anchor="middle" fill="#000" stroke="#000" stroke-width="0.1" >Chromosome 19 (cM)</text><text x="10.5" y="291" font-size="6.9" font-weight="400" text-anchor="middle" fill="#000" stroke="#000" stroke-width="0.1" transform="rotate(-90 10.5 291)">LnWBC LPR</text><text x="31" y="237" font-size="7.3" font-weight="400" text-anchor="start" fill="#111" stroke="#111" stroke-width="0.18" >Genome threshold</text><text x="31" y="282" font-size="7.3" font-weight="400" text-anchor="start" fill="#111" stroke="#111" stroke-width="0.18" >Chrom threshold</text><text x="251.5" y="10.2" font-size="11.5" font-weight="700" text-anchor="start" fill="#000" >B</text><text x="302.5" y="139.3" font-size="7.6" font-weight="700" text-anchor="end" fill="#000" stroke="#000" stroke-width="0.2" >0</text><text x="302.5" y="117.0" font-size="7.6" font-weight="700" text-anchor="end" fill="#000" stroke="#000" stroke-width="0.2" >20</text><text x="302.5" y="94.7" font-size="7.6" font-weight="700" text-anchor="end" fill="#000" stroke="#000" stroke-width="0.2" >40</text><text x="302.5" y="72.39999999999999" font-size="7.6" font-weight="700" text-anchor="end" fill="#000" stroke="#000" stroke-width="0.2" >60</text><text x="302.5" y="50.099999999999994" font-size="7.6" font-weight="700" text-anchor="end" fill="#000" stroke="#000" stroke-width="0.2" >80</text><text x="302.5" y="27.8" font-size="7.6" font-weight="700" text-anchor="end" fill="#000" stroke="#000" stroke-width="0.2" >100</text><text x="307.4" y="148.0" font-size="7.6" font-weight="700" text-anchor="middle" fill="#000" stroke="#000" stroke-width="0.2" >0</text><text x="315.6" y="148.0" font-size="7.6" font-weight="700" text-anchor="middle" fill="#000" stroke="#000" stroke-width="0.2" >50</text><text x="356.2" y="148.0" font-size="7.6" font-weight="700" text-anchor="middle" fill="#000" stroke="#000" stroke-width="0.2" >100</text><text x="396.4" y="148.0" font-size="7.6" font-weight="700" text-anchor="middle" fill="#000" stroke="#000" stroke-width="0.2" >150</text><text x="436.2" y="148.0" font-size="7.6" font-weight="700" text-anchor="middle" fill="#000" stroke="#000" stroke-width="0.2" >200</text><text x="476.2" y="148.0" font-size="7.6" font-weight="700" text-anchor="middle" fill="#000" stroke="#000" stroke-width="0.2" >250</text><text x="391.8" y="161.8" font-size="8.8" font-weight="700" text-anchor="middle" fill="#000" stroke="#000" stroke-width="0.2" >Days</text><text x="272.5" y="80" font-size="8.8" font-weight="700" text-anchor="middle" fill="#000" stroke="#000" stroke-width="0.2" transform="rotate(-90 272.5 80)">Cumulative Probability of</text><text x="284" y="80" font-size="8.8" font-weight="700" text-anchor="middle" fill="#000" stroke="#000" stroke-width="0.2" transform="rotate(-90 284 80)">Leukemia-Free Survival</text><text x="456.8" y="36" font-size="9.2" font-weight="400" text-anchor="start" fill="#000" stroke="#000" stroke-width="0.2" >SWR (n=18)</text><text x="456.8" y="48.6" font-size="9.2" font-weight="400" text-anchor="start" fill="#000" stroke="#000" stroke-width="0.2" >Het (n=87)</text><text x="456.8" y="61.5" font-size="9.2" font-weight="400" text-anchor="start" fill="#000" stroke="#000" stroke-width="0.2" >B6C3F1 (n=31)</text><text x="251.5" y="208" font-size="11.5" font-weight="700" text-anchor="start" fill="#000" >D</text><text x="302.8" y="242.09999999999997" font-size="8.6" font-weight="700" text-anchor="end" fill="#000" stroke="#000" stroke-width="0.2" >1000</text><text x="302.8" y="258.5" font-size="8.6" font-weight="700" text-anchor="end" fill="#000" stroke="#000" stroke-width="0.2" >500</text><text x="302.8" y="355.2" font-size="8.6" font-weight="700" text-anchor="end" fill="#000" stroke="#000" stroke-width="0.2" >0</text><text x="302.8" y="340.5" font-size="8.6" font-weight="700" text-anchor="end" fill="#000" stroke="#000" stroke-width="0.2" >20</text><text x="302.8" y="325.8" font-size="8.6" font-weight="700" text-anchor="end" fill="#000" stroke="#000" stroke-width="0.2" >40</text><text x="302.8" y="311.09999999999997" font-size="8.6" font-weight="700" text-anchor="end" fill="#000" stroke="#000" stroke-width="0.2" >60</text><text x="302.8" y="296.4" font-size="8.6" font-weight="700" text-anchor="end" fill="#000" stroke="#000" stroke-width="0.2" >80</text><text x="302.8" y="281.7" font-size="8.6" font-weight="700" text-anchor="end" fill="#000" stroke="#000" stroke-width="0.2" >100</text><text x="275" y="295" font-size="10" font-weight="700" text-anchor="middle" fill="#000" stroke="#000" stroke-width="0.2" transform="rotate(-90 275 295)">WBC (K/ul)</text><text y="228" font-size="9.9" fill="#000" stroke="#000" stroke-width="0.12"><tspan x="353.6" font-style="italic">P</tspan><tspan x="364.6">=</tspan><tspan x="370.6">.0012</tspan></text><text x="336.3" y="364.3" font-size="8.6" font-weight="700" text-anchor="middle" fill="#000" stroke="#000" stroke-width="0.2" >SWR/J</text><text x="336.3" y="377.0" font-size="8.4" font-weight="700" text-anchor="middle" fill="#000" stroke="#000" stroke-width="0.2" >(n=50)</text><text x="392.9" y="364.3" font-size="8.6" font-weight="700" text-anchor="middle" fill="#000" stroke="#000" stroke-width="0.2" >Het</text><text x="392.9" y="377.0" font-size="8.4" font-weight="700" text-anchor="middle" fill="#000" stroke="#000" stroke-width="0.2" >(n=127)</text><text x="451.1" y="364.3" font-size="8.6" font-weight="700" text-anchor="middle" fill="#000" stroke="#000" stroke-width="0.2" >B6C3F1</text><text x="451.1" y="377.0" font-size="8.4" font-weight="700" text-anchor="middle" fill="#000" stroke="#000" stroke-width="0.2" >(n=61)</text>
</g>
</svg>
</body></html>
